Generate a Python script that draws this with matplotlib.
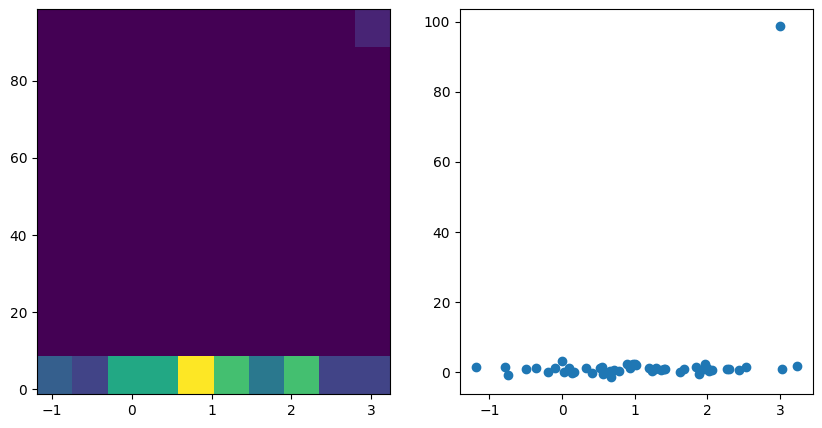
import matplotlib
matplotlib.use("Agg")
import matplotlib.pyplot as plt
import numpy as np

x_vals = [-1.185, -0.78, -0.75,
          -0.50, -0.36,
          -0.19, -0.10, 0.0, 0.03, 0.10, 0.14,
          0.16, 0.33, 0.41, 0.52, 0.55, 0.56,
          0.66, 0.68, 0.72, 0.78, 0.90, 0.93, 0.95, 0.97, 1.00, 1.02,
          1.20, 1.24, 1.28, 1.30, 1.36, 1.40, 1.42,
          1.63, 1.68, 1.85, 1.88,
          1.95, 1.97, 2.00, 2.03, 2.07, 2.27, 2.30,
          2.43, 2.53,
          3.03, 3.235,
          3.00]
y_vals = [1.6, 1.6, -0.9,
          1.0, 1.3,
          0.2, 1.1, 3.2, 0.2, 1.1, -0.1,
          0.1, 1.3, -0.3, 1.1, 1.6, -0.4,
          0.5, -1.2, 0.6, 0.4, 2.3, 1.1, 2.0, 2.4, 2.3, 2.0,
          1.1, 0.4, 0.9, 1.3, 0.6, 0.8, 0.9,
          0.2, 0.8, 1.6, -0.4,
          0.8, 2.3, 1.1, 0.4, 0.7, 0.8, 0.9,
          0.6, 1.6,
          1.0, 1.9,
          98.6]

x = np.array(x_vals)
y = np.array(y_vals)

fig = plt.figure(figsize=(8.22, 4.28), dpi=100)
W, H = 822, 428
ax1 = fig.add_axes([37 / W, (H - 394) / H, 353 / W, 385 / H])
ax2 = fig.add_axes([460 / W, (H - 394) / H, 353 / W, 385 / H])

ax1.hist2d(x, y, bins=10, cmap="viridis")
ax2.scatter(x, y)

fig.savefig("out.png", dpi=100)
